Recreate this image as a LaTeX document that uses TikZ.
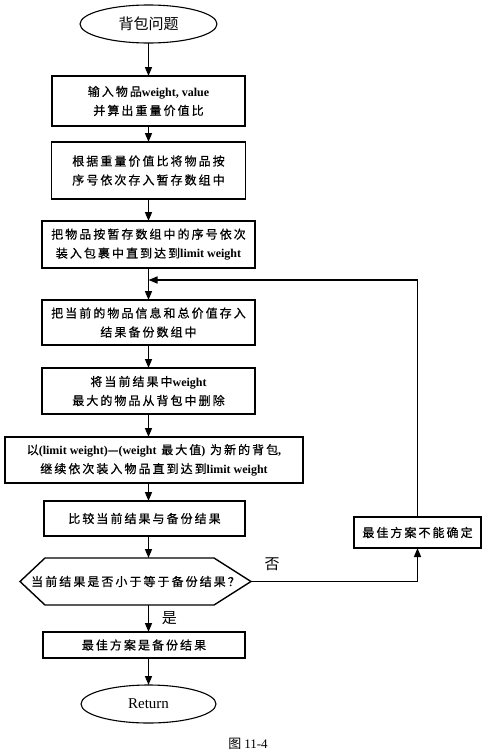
\documentclass[tikz,border=0pt]{standalone}
\usepackage{fontspec}
\setmainfont{Liberation Serif}
\newfontfamily\cjk[LetterSpace=17, FakeBold=0.6]{Noto Sans CJK SC}
\newfontfamily\cjkplain{Noto Sans CJK SC}
\newcommand{\en}[1]{{\rmfamily\bfseries #1}}
\usetikzlibrary{positioning, arrows.meta, shapes.geometric, calc}

\begin{document}
\begin{tikzpicture}[
    font=\cjk\fontsize{12}{19}\selectfont,
    >={Triangle[length=9pt,width=7pt]},
    node distance=20pt,
    outer sep=0pt,
    stepbox/.style ={rectangle, draw, line width=1.5pt, align=center, inner sep=0pt},
    terminal/.style={ellipse, draw, line width=1.1pt, minimum width=137pt, minimum height=38pt, inner sep=0pt},
    decision/.style={rectangle, align=center, inner sep=0pt},
    hexline/.style ={line width=1.4pt, line join=miter},
    bigtext/.style ={font=\cjkplain\fontsize{15}{18}\selectfont},
    arrow/.style={->, line width=1.5pt},
]
\useasboundingbox (0,0) rectangle (486pt,-753pt);

%==================== MAIN COLUMN ====================

\node[terminal, bigtext] (start) at (148.5pt,-24pt) {背包问题};

\node[stepbox, minimum width=193pt, minimum height=50pt, below=33pt of start] (input)
  {输入物品\en{weight, value}\\并算出重量价值比};
\node[stepbox, minimum width=194pt, minimum height=57pt, below=16pt of input] (sortbox)
  {根据重量价值比将物品按\\序号依次存入暂存数组中};
\node[stepbox, minimum width=213pt, minimum height=47pt, below=22pt of sortbox] (packbox)
  {把物品按暂存数组中的序号依次\\装入包裹中直到达到\en{limit weight}};
\node[stepbox, minimum width=213pt, minimum height=45pt, below=32pt of packbox] (backup)
  {把当前的物品信息和总价值存入\\结果备份数组中};
\node[stepbox, minimum width=213pt, minimum height=46pt, below=23pt of backup] (remove)
  {将当前结果中\en{weight}\\最大的物品从背包中删除};
\node[stepbox, minimum width=298pt, minimum height=46pt, below=23pt of remove, xshift=5.5pt] (refill)
  {以\en{(limit weight)}—\en{(weight} 最大值\en{)} 为新的背包\en{,}\\继续依次装入物品直到达到\en{limit weight}};
\node[stepbox, minimum width=201pt, minimum height=35pt, below=18pt of refill, xshift=-9.5pt] (compare)
  {比较当前结果与备份结果};

% hexagon drawn round a plain node
\node[decision, minimum width=231pt, minimum height=47pt, below=22pt of compare, xshift=-9pt] (check)
  {当前结果是否小于等于备份结果？};
\draw[hexline] (check.west) -- ([xshift=25pt]check.north west) -- ([xshift=-37pt]check.north east)
  -- (check.east) -- ([xshift=-37pt]check.south east) -- ([xshift=25pt]check.south west) -- cycle;

\node[stepbox, minimum width=202pt, minimum height=26pt, below=27pt of check, xshift=8.5pt] (best)
  {最佳方案是备份结果};
\node[terminal, minimum width=135pt, font=\rmfamily\fontsize{15}{18}\selectfont, below=27pt of best, xshift=4.5pt] (ret)
  {Return};

% side box on the loop back
\node[stepbox, minimum width=127pt, minimum height=31pt, right=109pt of compare, yshift=-14pt] (unsure)
  {最佳方案不能确定};

% caption
\node[font=\cjkplain\fontsize{13}{15}\selectfont, below=12pt of ret, xshift=99.5pt] (caption)
  {图 \rmfamily 11-4};

%==================== ARROWS ====================

\coordinate (join) at ($(packbox.south -| start)+(0,-12pt)$);

\draw[arrow] (start.south)            -- (input.north -| start);
\draw[arrow] (input.south -| start)   -- (sortbox.north -| start);
\draw[arrow] (sortbox.south -| start) -- (packbox.north -| start);
\draw[arrow] (packbox.south -| start) -- (backup.north -| start);
\draw[arrow] (backup.south -| start)  -- (remove.north -| start);
\draw[arrow] (remove.south -| start)  -- (refill.north -| start);
\draw[arrow] (refill.south -| start)  -- (compare.north -| start);
\draw[arrow] (compare.south -| start) -- (check.north -| start);
\draw[arrow] (check.south -| start)   -- (best.north -| start);
\draw[arrow] (best.south -| start)    -- (ret.north -| start);

% "no" branch and loop back
\draw[arrow] (check.east) -| (unsure.south);
\draw[arrow] (unsure.north) |- (join);

\node[bigtext] (nolabel) at ($(check.east)+(21pt,17pt)$) {否};
\node[bigtext, right=10pt] (yeslabel) at ($(check.south -| start)!0.5!(best.north -| start)$) {是};

\end{tikzpicture}
\end{document}
